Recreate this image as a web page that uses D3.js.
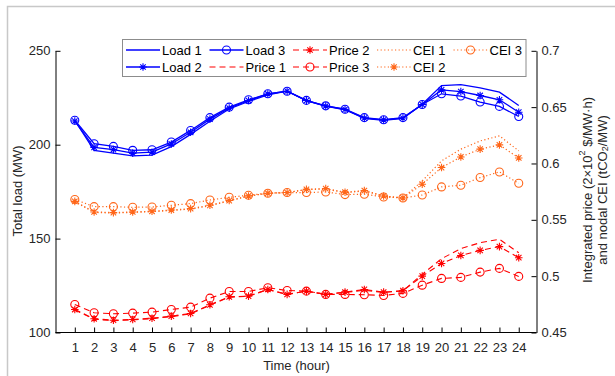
<!DOCTYPE html>
<html>
<head>
<meta charset="utf-8">
<script src="https://cdn.jsdelivr.net/npm/d3@7"></script>
<style>
  html, body { margin: 0; padding: 0; background: #fff; }
  svg { display: block; font-family: "Liberation Sans", Arial, sans-serif; }
</style>
</head>
<body>
<svg id="chart" width="615" height="376"></svg>
<script>
// Hours of the day
const hours = [1,2,3,4,5,6,7,8,9,10,11,12,13,14,15,16,17,18,19,20,21,22,23,24];

// Total load (MW), left axis
const load1 = [213, 197, 195.5, 194, 194.5, 199, 205.5, 212.5, 219, 223, 226.5, 228.5, 223.5, 220.5, 218.6, 214, 213, 214, 221.5, 231.5, 232, 230.3, 228, 220.9];
const load2 = [212.6, 198.6, 197.4, 195.5, 196, 200.4, 206.6, 213.6, 219.5, 223.5, 227, 228.5, 223.5, 220.6, 218.8, 214.2, 213.2, 214.2, 221.4, 229.2, 228.3, 226.2, 223.9, 217.3];
const load3 = [213, 200.5, 199.1, 197, 197.3, 201.4, 207.6, 214.4, 220, 223.9, 227.1, 228.5, 223.6, 220.7, 218.9, 214.4, 213.3, 214.4, 221.4, 227.1, 225.9, 222.7, 220.4, 215];

// Integrated price (2x10^2 $/MW·h), right axis
const price1 = [0.4700, 0.4618, 0.4605, 0.4612, 0.4623, 0.4641, 0.4665, 0.4742, 0.4814, 0.4821, 0.4882, 0.4838, 0.4867, 0.4838, 0.4856, 0.4875, 0.4855, 0.4870, 0.5016, 0.5155, 0.5244, 0.5297, 0.5327, 0.5208];
const price2 = [0.4704, 0.4622, 0.4609, 0.4616, 0.4627, 0.4645, 0.4669, 0.4746, 0.4817, 0.4823, 0.4882, 0.4838, 0.4867, 0.4838, 0.4858, 0.4882, 0.4858, 0.4871, 0.5000, 0.5113, 0.5184, 0.5229, 0.5262, 0.5164];
const price3 = [0.4749, 0.4675, 0.4666, 0.4672, 0.4681, 0.4704, 0.4725, 0.4805, 0.4864, 0.4864, 0.4897, 0.4873, 0.4867, 0.4838, 0.4838, 0.4835, 0.4829, 0.4847, 0.4920, 0.4980, 0.4989, 0.5036, 0.5069, 0.4998];

// Nodal CEI (tCO2/MW), right axis
const cei1 = [0.5660, 0.5566, 0.5560, 0.5566, 0.5572, 0.5583, 0.5595, 0.5625, 0.5668, 0.5710, 0.5736, 0.5742, 0.5768, 0.5774, 0.5740, 0.5757, 0.5710, 0.5694, 0.5845, 0.6023, 0.6127, 0.6200, 0.6245, 0.6112];
const cei2 = [0.5664, 0.5570, 0.5564, 0.5570, 0.5576, 0.5587, 0.5599, 0.5629, 0.5671, 0.5712, 0.5736, 0.5742, 0.5771, 0.5777, 0.5745, 0.5760, 0.5712, 0.5694, 0.5816, 0.5964, 0.6058, 0.6127, 0.6165, 0.6049];
const cei3 = [0.5680, 0.5617, 0.5617, 0.5611, 0.5614, 0.5629, 0.5644, 0.5676, 0.5700, 0.5718, 0.5736, 0.5742, 0.5742, 0.5747, 0.5724, 0.5727, 0.5703, 0.5694, 0.5720, 0.5792, 0.5807, 0.5875, 0.5925, 0.5824];

// Axis tick values
const xTicks = hours;
const leftTicks = [100, 150, 200, 250];
const rightTicks = [0.45, 0.5, 0.55, 0.6, 0.65, 0.7];
const rightTickLabels = ["0.45", "0.5", "0.55", "0.6", "0.65", "0.7"];

const BLUE = "#0000ff", RED = "#ff0000", ORANGE = "#ff6619";
const DASH = "6,4", DOT = "1.2,2.4";

const series = [
  { name: "Load 1", data: load1, axis: "L", color: BLUE, dash: null, marker: null, width: 1.3 },
  { name: "Load 2", data: load2, axis: "L", color: BLUE, dash: null, marker: "star", width: 1.3 },
  { name: "Load 3", data: load3, axis: "L", color: BLUE, dash: null, marker: "circle", width: 1.3 },
  { name: "Price 1", data: price1, axis: "R", color: RED, dash: DASH, marker: null, width: 1.1 },
  { name: "Price 2", data: price2, axis: "R", color: RED, dash: DASH, marker: "star", width: 1.1 },
  { name: "Price 3", data: price3, axis: "R", color: RED, dash: DASH, marker: "circle", width: 1.1 },
  { name: "CEI 1", data: cei1, axis: "R", color: ORANGE, dash: DOT, marker: null, width: 1.2 },
  { name: "CEI 2", data: cei2, axis: "R", color: ORANGE, dash: DOT, marker: "star", width: 1.2 },
  { name: "CEI 3", data: cei3, axis: "R", color: ORANGE, dash: DOT, marker: "circle", width: 1.2 }
];

const svg = d3.select("#chart");
const W = 615, H = 376;
const plot = { left: 55.5, right: 536.5, top: 50.8, bottom: 332.5 };

// Figure frame
svg.append("path")
  .attr("d", `M7.5,${H} V6.5 H${W}`)
  .attr("fill", "none").attr("stroke", "#c8c8c8").attr("stroke-width", 1.5);

const x = d3.scaleLinear().domain([0, 24.92]).range([plot.left, plot.right]);
const yL = d3.scaleLinear().domain([100, 250]).range([plot.bottom, plot.top]);
const yR = d3.scaleLinear().domain([0.45, 0.7]).range([plot.bottom, plot.top]);

const FS = 13;

// Axes (ticks point inward)
const gx = svg.append("g").attr("transform", `translate(0,${plot.bottom})`)
  .call(d3.axisBottom(x).tickValues(xTicks).tickFormat(d3.format("d"))
    .tickSizeInner(-5).tickSizeOuter(0).tickPadding(10));
const gl = svg.append("g").attr("transform", `translate(${plot.left},0)`)
  .call(d3.axisLeft(yL).tickValues(leftTicks).tickFormat(d3.format("d"))
    .tickSizeInner(-5).tickSizeOuter(0).tickPadding(5));
const gr = svg.append("g").attr("transform", `translate(${plot.right},0)`)
  .call(d3.axisRight(yR).tickValues(rightTicks).tickFormat((d, i) => rightTickLabels[i])
    .tickSizeInner(-5).tickSizeOuter(0).tickPadding(5));

[gx, gl, gr].forEach(g => {
  g.select(".domain").attr("stroke", "#000").attr("stroke-width", 1);
  g.selectAll(".tick line").attr("stroke", "#000").attr("stroke-width", 1);
  g.selectAll(".tick text").attr("fill", "#262626").attr("font-size", FS)
    .attr("font-family", "Liberation Sans, Arial, sans-serif");
});
// Bottom domain spans the whole plot width
gx.select(".domain").attr("d", `M${plot.left},0H${plot.right}`);

// Axis titles
svg.append("text")
  .attr("x", (plot.left + plot.right) / 2 + 0.5).attr("y", 370)
  .attr("text-anchor", "middle").attr("font-size", FS).attr("fill", "#262626")
  .text("Time (hour)");

svg.append("text")
  .attr("transform", "translate(17,191) rotate(-90)")
  .attr("text-anchor", "middle").attr("dominant-baseline", "central")
  .attr("font-size", FS).attr("fill", "#262626")
  .text("Total load (MW)");

const rt1 = svg.append("text")
  .attr("transform", "translate(587,190) rotate(-90)")
  .attr("text-anchor", "middle").attr("dominant-baseline", "central")
  .attr("font-size", FS).attr("fill", "#262626");
rt1.append("tspan").text("Integrated price (2×10");
rt1.append("tspan").attr("font-size", 9).attr("dy", -5).text("2");
rt1.append("tspan").attr("dy", 5).text(" $/MW·h)");

const rt2 = svg.append("text")
  .attr("transform", "translate(602,190) rotate(-90)")
  .attr("text-anchor", "middle").attr("dominant-baseline", "central")
  .attr("font-size", FS).attr("fill", "#262626");
rt2.append("tspan").text("and nodal CEI (tCO");
rt2.append("tspan").attr("font-size", 9).attr("dy", 3).text("2");
rt2.append("tspan").attr("dy", -3).text("/MW)");

// Marker shapes
function starPath(r) {
  const k = r * 0.72;
  return `M${-r},0H${r}M0,${-r}V${r}M${-k},${-k}L${k},${k}M${-k},${k}L${k},${-k}`;
}
function drawMarker(g, type, color) {
  if (type === "circle") {
    g.append("circle").attr("r", 4).attr("fill", "none")
      .attr("stroke", color).attr("stroke-width", 1.1);
  } else if (type === "star") {
    g.append("path").attr("d", starPath(3.8)).attr("fill", "none")
      .attr("stroke", color).attr("stroke-width", 1.1);
  }
}

// Series
const plotG = svg.append("g");
series.forEach(s => {
  const y = s.axis === "L" ? yL : yR;
  const line = d3.line().x((d, i) => x(hours[i])).y(d => y(d));
  plotG.append("path").datum(s.data)
    .attr("d", line).attr("fill", "none")
    .attr("stroke", s.color).attr("stroke-width", s.width)
    .attr("stroke-dasharray", s.dash);
  if (s.marker) {
    s.data.forEach((d, i) => {
      const g = plotG.append("g").attr("transform", `translate(${x(hours[i])},${y(d)})`);
      drawMarker(g, s.marker, s.color);
    });
  }
});

// Legend
const legend = svg.append("g");
legend.append("rect")
  .attr("x", 122.5).attr("y", 39.5).attr("width", 403.5).attr("height", 37)
  .attr("fill", "#fff").attr("stroke", "#8c8c8c").attr("stroke-width", 1);

const legendCols = [126, 209.5, 293, 377, 453.5];
const legendRows = [50, 67];
const legendOrder = [
  ["Load 1", 0, 0], ["Load 3", 1, 0], ["Price 2", 2, 0], ["CEI 1", 3, 0], ["CEI 3", 4, 0],
  ["Load 2", 0, 1], ["Price 1", 1, 1], ["Price 3", 2, 1], ["CEI 2", 3, 1]
];
legendOrder.forEach(([name, c, r]) => {
  const s = series.find(d => d.name === name);
  const lx = legendCols[c], ly = legendRows[r];
  const len = 34;
  legend.append("line")
    .attr("x1", lx).attr("x2", lx + len).attr("y1", ly).attr("y2", ly)
    .attr("stroke", s.color).attr("stroke-width", s.width)
    .attr("stroke-dasharray", s.dash);
  if (s.marker) {
    const g = legend.append("g").attr("transform", `translate(${lx + len / 2},${ly})`);
    drawMarker(g, s.marker, s.color);
  }
  legend.append("text")
    .attr("x", lx + len + 2).attr("y", ly)
    .attr("dominant-baseline", "central")
    .attr("font-size", FS).attr("fill", "#000")
    .text(name);
});
</script>
</body>
</html>
